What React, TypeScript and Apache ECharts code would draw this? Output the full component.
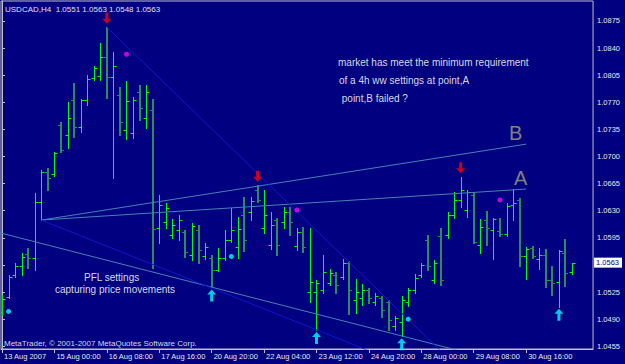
import React, { useEffect, useRef } from "react";
import * as echarts from "echarts";

const symbolName = "USDCAD,H4";
const opens = [1.0499,1.0519,1.0547,1.0559,1.0574,1.0569,1.0641,1.0680,1.0677,1.0741,
1.0728,1.0773,1.0738,1.0773,1.0801,1.0804,1.0829,1.0803,1.0779,1.0734,
1.0730,1.0783,1.0750,1.0760,1.0608,1.0615,1.0599,1.0605,1.0603,1.0573,
1.0605,1.0572,1.0569,1.0554,1.0569,1.0592,1.0583,1.0625,1.0628,1.0657,
1.0608,1.0586,1.0618,1.0615,1.0628,1.0585,1.0603,1.0525,1.0525,1.0528,
1.0537,1.0547,1.0545,1.0563,1.0515,1.0517,1.0528,1.0512,1.0517,1.0512,
1.0481,1.0486,1.0512,1.0528,1.0547,1.0592,1.0541,1.0597,1.0599,1.0625,
1.0644,1.0631,1.0650,1.0586,1.0618,1.0605,1.0604,1.0600,1.0637,1.0644,
1.0572,1.0582,1.0568,1.0573,1.0541,1.0538,1.0575,1.0551];
const highs = [1.0521,1.0547,1.0563,1.0575,1.0582,1.0653,1.0683,1.0685,1.0706,1.0745,
1.0770,1.0795,1.0774,1.0805,1.0817,1.0847,1.0867,1.0835,1.0790,1.0798,
1.0777,1.0792,1.0792,1.0774,1.0650,1.0640,1.0619,1.0625,1.0605,1.0614,
1.0612,1.0588,1.0573,1.0582,1.0605,1.0633,1.0622,1.0648,1.0648,1.0663,
1.0657,1.0628,1.0621,1.0635,1.0635,1.0608,1.0609,1.0608,1.0541,1.0573,
1.0555,1.0551,1.0568,1.0565,1.0542,1.0535,1.0530,1.0524,1.0520,1.0515,
1.0494,1.0520,1.0530,1.0548,1.0563,1.0599,1.0566,1.0608,1.0628,1.0654,
1.0674,1.0657,1.0654,1.0619,1.0630,1.0621,1.0621,1.0640,1.0658,1.0647,
1.0583,1.0585,1.0582,1.0581,1.0559,1.0579,1.0594,1.0563];
const lows = [1.0495,1.0517,1.0545,1.0547,1.0556,1.0554,1.0618,1.0657,1.0675,1.0706,
1.0711,1.0725,1.0732,1.0767,1.0799,1.0799,1.0776,1.0672,1.0728,1.0723,
1.0724,1.0747,1.0737,1.0556,1.0588,1.0608,1.0595,1.0592,1.0570,1.0566,
1.0563,1.0568,1.0531,1.0552,1.0567,1.0590,1.0569,1.0578,1.0618,1.0641,
1.0601,1.0581,1.0573,1.0608,1.0599,1.0579,1.0577,1.0512,1.0476,1.0524,
1.0534,1.0524,1.0542,1.0497,1.0498,1.0508,1.0511,1.0508,1.0493,1.0476,
1.0476,1.0468,1.0507,1.0524,1.0545,1.0554,1.0537,1.0534,1.0595,1.0621,
1.0635,1.0622,1.0588,1.0575,1.0586,1.0568,1.0598,1.0598,1.0618,1.0559,
1.0542,1.0569,1.0555,1.0531,1.0521,1.0506,1.0533,1.0548];
const closes = [1.0516,1.0545,1.0559,1.0570,1.0569,1.0641,1.0680,1.0672,1.0705,1.0708,
1.0750,1.0738,1.0773,1.0800,1.0814,1.0829,1.0803,1.0817,1.0745,1.0772,
1.0773,1.0763,1.0783,1.0606,1.0637,1.0634,1.0612,1.0618,1.0577,1.0610,
1.0579,1.0583,1.0554,1.0569,1.0592,1.0605,1.0606,1.0592,1.0643,1.0644,
1.0625,1.0612,1.0586,1.0628,1.0615,1.0603,1.0583,1.0538,1.0537,1.0551,
1.0550,1.0534,1.0563,1.0528,1.0525,1.0528,1.0517,1.0520,1.0502,1.0489,
1.0492,1.0515,1.0528,1.0543,1.0560,1.0559,1.0563,1.0541,1.0625,1.0644,
1.0657,1.0654,1.0590,1.0609,1.0608,1.0619,1.0600,1.0636,1.0640,1.0572,
1.0581,1.0572,1.0573,1.0541,1.0537,1.0578,1.0550,1.0563];

const xTickIdx = [0, 8, 16, 24, 32, 40, 48, 56, 64, 72, 80];
const xTickLabels = ["13 Aug 2007", "15 Aug 00:00", "16 Aug 08:00", "17 Aug 16:00", "20 Aug 20:00",
  "22 Aug 04:00", "23 Aug 12:00", "24 Aug 20:00", "28 Aug 00:00", "29 Aug 08:00", "30 Aug 16:00"];
const yTickValues = [1.0455, 1.0490, 1.0525, 1.0560, 1.0595, 1.0630, 1.0665, 1.0700, 1.0735,
  1.0770, 1.0805, 1.0840, 1.0875];

const trendA = [[6, 1.0618], [80, 1.0658]];
const trendB = [[6, 1.0618], [80, 1.0716]];
const lowerChannel = [[-1, 1.0603], [75, 1.0438]];
const fanFromPeak = [[16, 1.0867], [70, 1.0424]];
const fanFromLow = [[6, 1.0618], [62, 1.0429]];
const topArrowIdx = [16, 39, 70];
const bottomArrowIdx = [32, 48, 61, 85];
const magentaDots = [[19, 1.0832], [45, 1.0631], [76, 1.0644]];
const cyanDots = [[1, 1.0500], [35, 1.0571], [62, 1.0490]];

const noteLines = ["market has meet the minimum requirement", "of a 4h ww settings at point,A", " point,B failed ?"];
const pflLines = ["PFL settings", "capturing price movements"];
const copyright = "MetaTrader, \u00A9 2001-2007 MetaQuotes Software Corp.";

const UP = "#00FF00";
const DOWN = "#2E8B57";
const FONT = "Liberation Sans";

export default function App() {
  const ref = useRef<HTMLDivElement>(null);
  useEffect(() => {
    if (!ref.current) return;
    const chart = echarts.init(ref.current, null, { renderer: "svg", width: 625, height: 364 });
    const n = closes.length;
    const last = n - 1;
    const lastClose = closes[last];
    const yLabelVals = yTickValues.filter((v) => Math.abs(v - lastClose) > 0.0005).concat([lastClose]);
    const ohlc = closes.map((c, i) => [i, opens[i], highs[i], lows[i], c]);
    const title = `${symbolName}  ${opens[last].toFixed(4)} ${highs[last].toFixed(4)} ${lows[last].toFixed(4)} ${closes[last].toFixed(4)}`;

    const lineSeries = (data: number[][], color: string) => ({
      type: "line",
      data,
      showSymbol: false,
      symbol: "none",
      silent: true,
      animation: false,
      lineStyle: { color, width: 1 },
      z: 3,
    });

    const txt = (text: string, x: number, y: number, size: number, fill: string) => ({
      type: "text",
      x,
      y,
      silent: true,
      style: { text, fill, fontSize: size, fontFamily: FONT, verticalAlign: "middle", align: "left" },
    });

    chart.setOption({
      animation: false,
      backgroundColor: "#000080",
      grid: { left: 1, right: 31, top: 1, bottom: 15, show: true, borderColor: "#C0C0C0", borderWidth: 1 },
      xAxis: {
        type: "value",
        min: -0.152,
        max: 90.21,
        splitLine: { show: false },
        axisLine: { show: true, lineStyle: { color: "#C0C0C0" } },
        axisTick: { show: true, customValues: xTickIdx, length: 4, lineStyle: { color: "#C0C0C0" } },
        axisLabel: {
          customValues: xTickIdx,
          formatter: (v: number) => {
            const k = xTickIdx.indexOf(Math.round(v));
            return k >= 0 ? xTickLabels[k] : "";
          },
          color: "#E8E8E8",
          fontSize: 7.5,
          fontFamily: FONT,
          align: "left",
          margin: 3,
          padding: [0, 0, 0, 2],
        },
      },
      yAxis: {
        type: "value",
        position: "right",
        min: 1.04515,
        max: 1.09008,
        splitLine: { show: false },
        axisLine: { show: true, lineStyle: { color: "#C0C0C0" } },
        axisTick: { show: true, customValues: yTickValues, length: 3, lineStyle: { color: "#C0C0C0" } },
        axisLabel: {
          customValues: yLabelVals,
          formatter: (v: number) =>
            Math.abs(v - lastClose) < 1e-6 ? `{cur|${v.toFixed(4)}}` : `{n|${v.toFixed(4)}}`,
          margin: 1,
          rich: {
            n: { color: "#E8E8E8", fontSize: 7.5, fontFamily: FONT, padding: [0, 0, 0, 3] },
            cur: { color: "#000080", backgroundColor: "#FFFFFF", fontSize: 7.5, fontFamily: FONT, padding: [1, 3, 1, 2] },
          },
        },
      },
      series: [
        {
          type: "custom",
          data: ohlc,
          encode: { x: 0, y: [1, 2, 3, 4] },
          clip: true,
          z: 2,
          renderItem: (params: any, api: any) => {
            const i = api.value(0);
            const o = api.value(1);
            const h = api.value(2);
            const l = api.value(3);
            const c = api.value(4);
            const ph = api.coord([i, h]);
            const pl = api.coord([i, l]);
            const po = api.coord([i, o]);
            const pc = api.coord([i, c]);
            const up = c >= o;
            const color = up ? UP : DOWN;
            const w = up ? 1 : 2;
            const x = Math.round(ph[0]) + (up ? 0.5 : 0);
            const yo = Math.round(po[1]) + 0.5;
            const yc = Math.round(pc[1]) + 0.5;
            return {
              type: "group",
              children: [
                { type: "line", shape: { x1: x, y1: Math.round(ph[1]), x2: x, y2: Math.round(pl[1]) + 1 }, style: { stroke: color, lineWidth: w } },
                { type: "line", shape: { x1: x - 3, y1: yo, x2: x, y2: yo }, style: { stroke: color, lineWidth: 1 } },
                { type: "line", shape: { x1: x, y1: yc, x2: x + 3, y2: yc }, style: { stroke: color, lineWidth: 1 } },
              ],
            };
          },
        },
        lineSeries(trendA, "#4682B4"),
        lineSeries(trendB, "#4682B4"),
        lineSeries(lowerChannel, "#4682B4"),
        lineSeries(fanFromPeak, "#1414D2"),
        lineSeries(fanFromLow, "#1414D2"),
        {
          type: "scatter",
          data: topArrowIdx.map((i) => [i, highs[i]]),
          symbol: "path://M3,0 L6,0 L6,6 L9,6 L4.5,11 L0,6 L3,6 Z",
          symbolSize: [9, 11],
          symbolOffset: [0, -9],
          itemStyle: { color: "#FF0000" },
          silent: true,
          z: 5,
        },
        {
          type: "scatter",
          data: bottomArrowIdx.map((i) => [i, lows[i]]),
          symbol: "path://M4.5,0 L9,5 L6,5 L6,12 L3,12 L3,5 L0,5 Z",
          symbolSize: [9, 12],
          symbolOffset: [0, 8],
          itemStyle: { color: "#00FFFF" },
          silent: true,
          z: 5,
        },
        {
          type: "scatter",
          data: magentaDots,
          symbol: "circle",
          symbolSize: 5,
          itemStyle: { color: "#FF00FF" },
          silent: true,
          z: 5,
        },
        {
          type: "scatter",
          data: cyanDots,
          symbol: "circle",
          symbolSize: 5,
          itemStyle: { color: "#00FFFF" },
          silent: true,
          z: 5,
        },
      ],
      graphic: [
        txt(title, 5, 9, 8, "#E0E0E0"),
        txt(noteLines[0], 338, 62, 10, "#D8D8E0"),
        txt(noteLines[1], 339, 80, 10, "#D8D8E0"),
        txt(noteLines[2], 339, 98, 10, "#D8D8E0"),
        txt(pflLines[0], 84, 277, 10, "#D8D8E0"),
        txt(pflLines[1], 55, 289, 10, "#D8D8E0"),
        txt(copyright, 4, 343, 8, "#D8D8E0"),
        txt("B", 509, 133, 20, "#808080"),
        txt("A", 514, 178, 20, "#808080"),
      ],
    });
    return () => chart.dispose();
  }, []);
  return (
    <div
      ref={ref}
      style={{ position: "fixed", left: 0, top: 0, width: 625, height: 364, background: "#000080" }}
    />
  );
}
